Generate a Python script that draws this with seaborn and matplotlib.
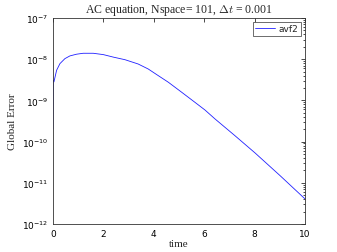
import numpy as np
import pandas as pd
import matplotlib
matplotlib.use("Agg")
import matplotlib.pyplot as plt
import seaborn as sns

# values (time, global error)
time = [0.0, 0.012, 0.04, 0.147, 0.278, 0.476, 0.675, 0.94, 1.2, 1.6, 2.0, 2.4,
        2.86, 3.38, 3.78, 4.18, 4.58, 5.11, 5.63, 6.03, 6.43, 7.22, 8.02, 9.01, 10.0]
error = [2.0e-10, 3.08e-9, 2.8e-9, 5.38e-9, 7.78e-9, 1.03e-8, 1.2e-8, 1.32e-8,
         1.39e-8, 1.39e-8, 1.29e-8, 1.12e-8, 9.7e-9, 7.64e-9, 5.78e-9,
         3.98e-9, 2.75e-9, 1.57e-9, 9.0e-10, 5.85e-10, 3.54e-10, 1.39e-10,
         5.28e-11, 1.49e-11, 4.05e-12]
series_name = "avf2"

df = pd.DataFrame({"time": time, "error": error})

sns.set_style("white")
plt.rcParams["mathtext.fontset"] = "cm"
plt.rcParams["font.family"] = ["DejaVu Sans"]

fig = plt.figure(figsize=(3.37, 2.53), dpi=100)
ax = fig.add_axes([0.157, 0.111, 0.748, 0.814])

sns.lineplot(data=df, x="time", y="error", ax=ax, color="#2020ff", lw=0.6,
             label=series_name)
ax.set_yscale("log")
ax.set_xlim(0, 10)
ax.set_ylim(1e-12, 1e-7)
ax.set_xticks([0, 2, 4, 6, 8, 10])

ax.tick_params(which="both", direction="in", top=True, right=True,
               labelsize=6.5, width=0.5, colors="black")
ax.tick_params(which="major", length=3)
ax.tick_params(which="minor", length=1.6)
for s in ax.spines.values():
    s.set_linewidth(0.6)
    s.set_color("#333333")

ax.set_title(r"AC equation, Nspace= 101, $\Delta t$ = 0.001",
             family="Liberation Serif", fontsize=8.5, pad=4)
ax.set_xlabel("time", family="Liberation Serif", fontsize=8, labelpad=1)
ax.set_ylabel("Global Error", family="Liberation Serif", fontsize=8, labelpad=3)

leg = ax.legend(loc="upper right", fontsize=6.5, handlelength=2.2,
                borderpad=0.3, fancybox=False, framealpha=1,
                borderaxespad=0.4, handletextpad=0.4)
leg.get_frame().set_edgecolor("#333333")
leg.get_frame().set_linewidth(0.5)

fig.savefig("out.png", dpi=100)
